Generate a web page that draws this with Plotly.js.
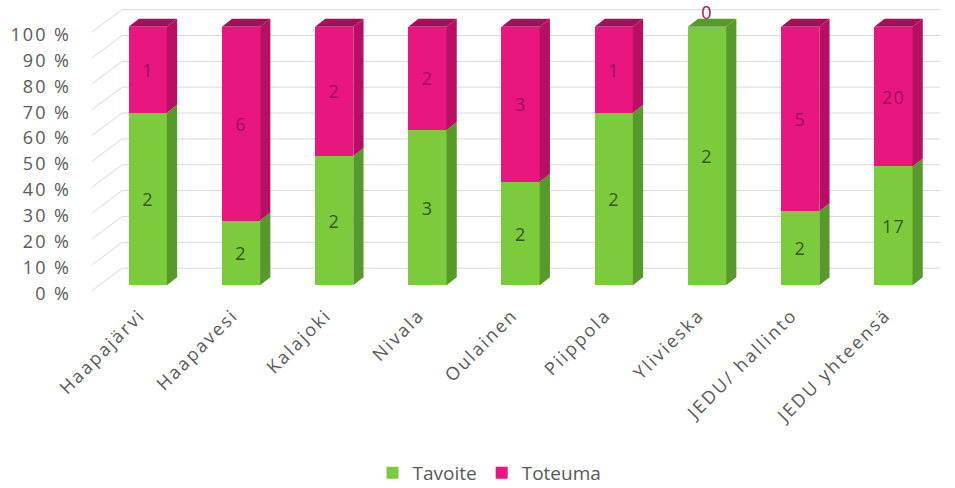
<!DOCTYPE html>
<html><head><meta charset="utf-8">
<script src="https://cdn.plot.ly/plotly-3.0.1.min.js"></script>
<style>
html,body{margin:0;padding:0;background:#fff}
#chart{width:955px;height:488px}
#chart .xtick text{letter-spacing:2.2px}
#chart .ytick text{letter-spacing:2px}
#chart .bartext{letter-spacing:1px}
</style>
</head><body><div id="chart"></div>
<script>
const categories = ["Haapajärvi","Haapavesi","Kalajoki","Nivala","Oulainen","Piippola","Ylivieska","JEDU/ hallinto","JEDU yhteensä"];
const tavoite = [2,2,2,3,2,2,2,2,17];
const toteuma = [1,6,2,2,3,1,0,5,20];
const yTicks = [0,10,20,30,40,50,60,70,80,90,100];

const greenFront = "#7CCB3C", greenSide = "#579A2A";
const pinkFront = "#E8167E", pinkSide = "#B80F63", pinkTop = "#A80D5A";

const W = 0.41;        // bar width (category units)
const DX = 0.11;       // depth offset x (category units)
const DY = 3.1;        // depth offset y (percent units)
const BACK = 6.6;      // back wall offset (percent units)

const pctG = tavoite.map((v,i)=> v/(v+toteuma[i])*100);
const pctP = toteuma.map((v,i)=> v/(v+tavoite[i])*100);

const shapes = [];
// back wall gridlines + left diagonals
yTicks.forEach(v=>{
  shapes.push({type:"line", xref:"x", yref:"y", x0:-0.275, x1:8.5, y0:v+BACK, y1:v+BACK,
    line:{color:"#D9D9D9", width:1}, layer:"below"});
  shapes.push({type:"line", xref:"x", yref:"y", x0:-0.6, x1:-0.275, y0:v-2.1, y1:v+BACK,
    line:{color:"#D9D9D9", width:1}, layer:"below"});
});
function poly(pts, color){
  return {type:"path", xref:"x", yref:"y", layer:"above", line:{width:0}, fillcolor:color,
    path:"M"+pts.map(p=>p[0]+","+p[1]).join(" L")+" Z"};
}
categories.forEach((c,i)=>{
  const r = i + W/2, l = i - W/2;
  const g = pctG[i];
  shapes.push(poly([[r,0],[r+DX,DY],[r+DX,g+DY],[r,g]], greenSide));
  if (pctP[i] > 0) {
    shapes.push(poly([[r,g],[r+DX,g+DY],[r+DX,100+DY],[r,100]], pinkSide));
  }
  shapes.push(poly([[l,100],[r,100],[r+DX,100+DY],[l+DX,100+DY]], pctP[i] > 0 ? pinkTop : greenSide));
});

const fontFam = "'Open Sans', 'Noto Sans', sans-serif";
const data = [
  {type:"bar", name:"Tavoite", x:categories, y:pctG, text:tavoite.map(String),
   textposition:"inside", insidetextanchor:"middle", textangle:0,
   textfont:{color:"#33581F", size:18, family:fontFam},
   marker:{color:greenFront, line:{width:0}}, width:W, hoverinfo:"skip"},
  {type:"bar", name:"Toteuma", x:categories, y:pctP, text:toteuma.map(String),
   textposition:toteuma.map(v=> v>0 ? "inside" : "outside"), insidetextanchor:"middle", textangle:0,
   textfont:{color:"#A0105C", size:18, family:fontFam},
   marker:{color:pinkFront, line:{width:0}}, width:W, hoverinfo:"skip", cliponaxis:false}
];
const layout = {
  width:955, height:488,
  margin:{l:90, r:15, t:6, b:195, autoexpand:false},
  paper_bgcolor:"#fff", plot_bgcolor:"rgba(0,0,0,0)",
  barmode:"stack", showlegend:true,
  font:{family:fontFam, color:"#595959", size:18},
  xaxis:{type:"category", range:[-0.62,8.5], tickangle:-45, showgrid:false, zeroline:false,
    showline:false, ticks:"", ticklabelstandoff:7, ticklabelshift:-8, automargin:false,
    tickfont:{size:18, color:"#595959"}},
  yaxis:{range:[-3,108], tickvals:yTicks, ticktext:yTicks.map(v=>v+" %"), showgrid:false,
    zeroline:false, showline:false, ticks:"", ticklabelstandoff:18, ticklabelshift:8, automargin:false,
    tickfont:{size:18, color:"#595959"}},
  legend:{orientation:"h", x:0.47, xanchor:"center", yref:"container", y:0.031, yanchor:"middle",
    font:{size:19, color:"#595959"}, itemwidth:30, traceorder:"normal"},
  shapes:shapes
};
Plotly.newPlot("chart", data, layout, {staticPlot:true, displayModeBar:false});
</script></body></html>
